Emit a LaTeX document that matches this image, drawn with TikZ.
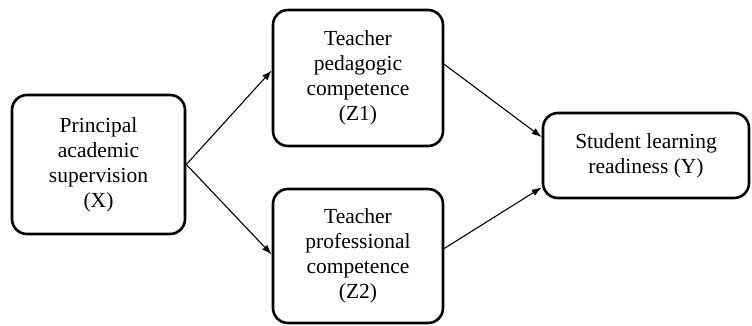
\documentclass[tikz,border=0pt]{standalone}
\usepackage{fontspec}
\setmainfont{Liberation Serif}
\usetikzlibrary{arrows.meta}

\begin{document}
\begin{tikzpicture}[x=1pt,y=-1pt,>={Latex[length=10pt,width=7pt]},
    varbox/.style={draw, line width=2.6pt, rounded corners=15pt, align=center, inner sep=0pt,
        font=\rmfamily\fontsize{21.5}{25}\selectfont},
    path/.style={->, line width=1.1pt}]

    \useasboundingbox (0,0) rectangle (752,326);

    \node[varbox, minimum width=173pt, minimum height=139pt] at (98.5,164.5) (nx) {Principal\\academic\\supervision\\(X)};
    \node[varbox, minimum width=170pt, minimum height=136pt] at (358,78) (nz1) {Teacher\\pedagogic\\competence\\(Z1)};
    \node[varbox, minimum width=170pt, minimum height=134pt] at (358,256) (nz2) {Teacher\\professional\\competence\\(Z2)};
    \node[varbox, minimum width=206pt, minimum height=85pt] at (646,155.5) (ny) {Student learning\\readiness (Y)};

    \draw[path] (nx.east) -- (nz1.175);
    \draw[path] (nx.east) -- (nz2.179);
    \draw[path] (nz1.9) -- (ny.170);
    \draw[path] (nz2.5) -- (ny.197);

\end{tikzpicture}
\end{document}
